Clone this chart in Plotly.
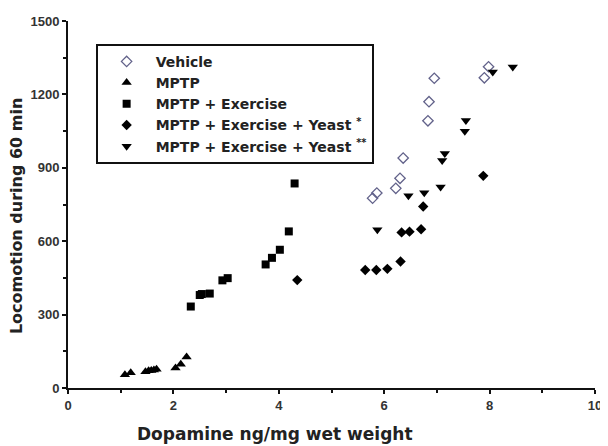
import plotly.graph_objects as go

# Data
vehicle_x = [5.78, 5.86, 6.22, 6.30, 6.36, 6.83, 6.85, 6.95, 7.90, 7.98]
vehicle_y = [776, 797, 816, 857, 940, 1092, 1170, 1266, 1268, 1313]

mptp_x = [1.08, 1.19, 1.47, 1.53, 1.58, 1.63, 1.68, 2.04, 2.14, 2.25]
mptp_y = [54, 62, 66, 70, 72, 74, 77, 82, 97, 127]

ex_x = [2.33, 2.50, 2.54, 2.69, 2.93, 3.03, 3.75, 3.87, 4.02, 4.19, 4.30]
ex_y = [333, 380, 384, 386, 440, 449, 505, 532, 565, 640, 836]

y1_x = [4.35, 5.64, 5.85, 6.06, 6.31, 6.33, 6.48, 6.70, 6.74, 7.88]
y1_y = [441, 482, 482, 487, 517, 636, 639, 649, 742, 867]

y2_x = [5.87, 6.46, 6.76, 7.07, 7.10, 7.15, 7.53, 7.55, 8.06, 8.44]
y2_y = [647, 786, 798, 822, 930, 958, 1049, 1093, 1292, 1312]

series_names = ["Vehicle", "MPTP", "MPTP + Exercise",
                "MPTP + Exercise + Yeast <sup>*</sup>",
                "MPTP + Exercise + Yeast <sup>**</sup>"]

x_title = "Dopamine ng/mg wet weight"
y_title = "Locomotion during 60 min"

TICKFONT = "Liberation Sans, Arial, sans-serif"
FONT = "DejaVu Sans, Verdana, sans-serif"

# the page body has an 8px margin, so everything measured on the reference
# page is shifted by 8px inside the figure
OFF = 8
W, H = 600, 438
ML, MR, MT, MB = 60, 6, 10, 58
PW = W - ML - MR
PH = H - MT - MB


def px_to_paper(px, py):
    return (px - OFF - ML) / PW, (H - MB - (py - OFF)) / PH


fig = go.Figure()
fig.add_trace(go.Scatter(x=vehicle_x, y=vehicle_y, mode="markers", name=series_names[0],
                         marker=dict(symbol="diamond-open", size=8, color="#62628a",
                                     line=dict(width=1.3, color="#62628a"))))
fig.add_trace(go.Scatter(x=mptp_x, y=mptp_y, mode="markers", name=series_names[1],
                         marker=dict(symbol="triangle-up", size=9, color="black")))
fig.add_trace(go.Scatter(x=ex_x, y=ex_y, mode="markers", name=series_names[2],
                         marker=dict(symbol="square", size=8, color="black")))
fig.add_trace(go.Scatter(x=y1_x, y=y1_y, mode="markers", name=series_names[3],
                         marker=dict(symbol="diamond", size=8, color="black")))
fig.add_trace(go.Scatter(x=y2_x, y=y2_y, mode="markers", name=series_names[4],
                         marker=dict(symbol="triangle-down", size=9, color="black")))

lx, ly = px_to_paper(96, 41)
xtx, xty = px_to_paper(278, 434)
ytx, yty = px_to_paper(16, 215)

fig.update_layout(
    width=W, height=H,
    margin=dict(l=ML, r=MR, t=MT, b=MB),
    paper_bgcolor="white", plot_bgcolor="white",
    font=dict(family=FONT, color="#222"),
    showlegend=True,
    legend=dict(x=lx, y=ly, xanchor="left", yanchor="top",
                bgcolor="white", bordercolor="#111", borderwidth=2,
                font=dict(family=FONT, size=14, color="#222", weight="bold"),
                itemwidth=48, tracegroupgap=0, traceorder="normal"),
    xaxis=dict(range=[0, 10], dtick=2, tick0=0, showgrid=False, zeroline=False,
               showline=True, linecolor="#111", linewidth=2,
               ticks="outside", ticklen=4, tickwidth=1.5, tickcolor="#111",
               ticklabeloverflow="allow",
               minor=dict(dtick=1, ticks="outside", ticklen=3, tickcolor="#111"),
               tickfont=dict(family=TICKFONT, size=13, color="#333", weight="bold")),
    yaxis=dict(range=[0, 1500], dtick=300, tick0=0, showgrid=False, zeroline=False,
               showline=True, linecolor="#111", linewidth=2,
               ticks="outside", ticklen=4, tickwidth=1.5, tickcolor="#111",
               minor=dict(dtick=150, ticks="outside", ticklen=3, tickcolor="#111"),
               tickfont=dict(family=TICKFONT, size=13, color="#333", weight="bold")),
    annotations=[
        dict(text=x_title, x=xtx, y=xty, xref="paper", yref="paper",
             xanchor="center", yanchor="middle", showarrow=False,
             font=dict(family=FONT, size=17, color="#222", weight="bold")),
        dict(text=y_title, x=ytx, y=yty, xref="paper", yref="paper",
             xanchor="center", yanchor="middle", textangle=-90, showarrow=False,
             font=dict(family=FONT, size=16, color="#222", weight="bold")),
    ],
)

fig.write_html("out.html")
